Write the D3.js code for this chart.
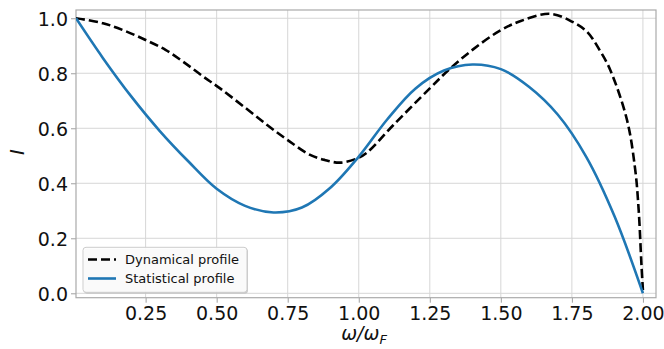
<!DOCTYPE html>
<html>
<head>
<meta charset="utf-8">
<script src="https://cdn.jsdelivr.net/npm/d3@7"></script>
<style>
  body { margin: 0; background: #fff; }
  svg { display: block; font-family: "DejaVu Sans", sans-serif; }
</style>
</head>
<body>
<svg id="chart" width="664" height="349"></svg>
<script>
// values
const xTicks = [0.25, 0.5, 0.75, 1.0, 1.25, 1.5, 1.75, 2.0];
const yTicks = [0.0, 0.2, 0.4, 0.6, 0.8, 1.0];

const dynamicalX = [0.005, 0.1, 0.175, 0.25, 0.32, 0.382, 0.45, 0.512, 0.6, 0.68, 0.75, 0.829, 0.88, 0.934, 0.993, 1.028, 1.122, 1.25, 1.316, 1.4, 1.497, 1.57, 1.674, 1.75, 1.803, 1.85, 1.885, 1.944, 1.973, 1.985, 1.995, 2.0];
const dynamicalY = [1.0, 0.982, 0.955, 0.921, 0.885, 0.842, 0.79, 0.745, 0.675, 0.61, 0.557, 0.503, 0.485, 0.475, 0.49, 0.511, 0.612, 0.745, 0.812, 0.885, 0.955, 0.99, 1.016, 0.988, 0.951, 0.88, 0.812, 0.63, 0.448, 0.303, 0.1, 0.012];

const statisticalX = [0.005, 0.1, 0.2, 0.3, 0.4, 0.5, 0.6, 0.7, 0.8, 0.9, 1.0, 1.1, 1.2, 1.3, 1.4, 1.5, 1.6, 1.7, 1.8, 1.9, 2.0];
const statisticalY = [1.0, 0.855, 0.715, 0.59, 0.48, 0.38, 0.318, 0.294, 0.312, 0.384, 0.497, 0.632, 0.745, 0.81, 0.832, 0.815, 0.75, 0.65, 0.497, 0.28, 0.0];

const svg = d3.select("#chart");
const plotLeft = 76, plotRight = 656, plotTop = 10, plotBottom = 297.7;

const xScale = d3.scaleLinear().domain([0.005, 2.046]).range([plotLeft, plotRight]);
const yScale = d3.scaleLinear().domain([-0.016, 1.03]).range([plotBottom, plotTop]);

svg.append("defs").append("clipPath").attr("id", "plotClip")
    .append("rect")
    .attr("x", plotLeft).attr("y", plotTop)
    .attr("width", plotRight - plotLeft).attr("height", plotBottom - plotTop);

// grid
const grid = svg.append("g");
grid.selectAll(".vgrid").data(xTicks).enter().append("line")
    .attr("x1", d => xScale(d)).attr("x2", d => xScale(d))
    .attr("y1", plotTop).attr("y2", plotBottom)
    .attr("stroke", "#d6d6d6").attr("stroke-width", 1);
grid.selectAll(".hgrid").data(yTicks).enter().append("line")
    .attr("y1", d => yScale(d)).attr("y2", d => yScale(d))
    .attr("x1", plotLeft).attr("x2", plotRight)
    .attr("stroke", "#d6d6d6").attr("stroke-width", 1);

// axes
const xAxis = svg.append("g")
    .attr("transform", `translate(0,${plotBottom})`)
    .call(d3.axisBottom(xScale).tickValues(xTicks).tickFormat(d3.format(".2f")).tickSize(5).tickPadding(4));
const yAxis = svg.append("g")
    .attr("transform", `translate(${plotLeft},0)`)
    .call(d3.axisLeft(yScale).tickValues(yTicks).tickFormat(d3.format(".1f")).tickSize(5).tickPadding(3));

[xAxis, yAxis].forEach(a => {
    a.select(".domain").remove();
    a.selectAll(".tick line").attr("stroke", "#a0a0a0");
    a.selectAll(".tick text")
        .attr("fill", "#111")
        .style("font-size", "19px")
        .style("font-family", "DejaVu Sans");
});
yAxis.selectAll(".tick text").attr("dy", "0.36em");

// frame
svg.append("rect")
    .attr("x", plotLeft).attr("y", plotTop)
    .attr("width", plotRight - plotLeft).attr("height", plotBottom - plotTop)
    .attr("fill", "none").attr("stroke", "#aaaaaa").attr("stroke-width", 1.2);

const line = d3.line()
    .x(d => xScale(d[0]))
    .y(d => yScale(d[1]))
    .curve(d3.curveCatmullRom.alpha(0.5));

const plot = svg.append("g").attr("clip-path", "url(#plotClip)");

plot.append("path")
    .datum(d3.zip(dynamicalX, dynamicalY))
    .attr("d", line)
    .attr("fill", "none")
    .attr("stroke", "#000")
    .attr("stroke-width", 2.6)
    .attr("stroke-dasharray", "9,4");

plot.append("path")
    .datum(d3.zip(statisticalX, statisticalY))
    .attr("d", line)
    .attr("fill", "none")
    .attr("stroke", "#1f77b4")
    .attr("stroke-width", 2.6);

// axis labels
const xLabel = svg.append("text")
    .attr("x", 364).attr("y", 340)
    .attr("text-anchor", "middle")
    .style("font-size", "19px")
    .style("font-style", "italic")
    .attr("fill", "#111");
xLabel.append("tspan").text("ω/ω");
xLabel.append("tspan").text("F").attr("dy", 4).style("font-size", "13px");

svg.append("text")
    .attr("transform", "translate(24,152) rotate(-90)")
    .attr("text-anchor", "middle")
    .style("font-size", "20px")
    .style("font-style", "italic")
    .attr("fill", "#111")
    .text("I");

// legend
const legendNames = ["Dynamical profile", "Statistical profile"];
const legend = svg.append("g");
legend.append("rect")
    .attr("x", 84).attr("y", 248.5)
    .attr("width", 164).attr("height", 45)
    .attr("rx", 3)
    .attr("fill", "#999").attr("opacity", 0.5);
legend.append("rect")
    .attr("x", 83).attr("y", 247.3)
    .attr("width", 164).attr("height", 45)
    .attr("rx", 3)
    .attr("fill", "#fff").attr("fill-opacity", 0.9)
    .attr("stroke", "#cccccc");

legendNames.forEach((name, i) => {
    const y = 259.5 + i * 19;
    legend.append("line")
        .attr("x1", 88).attr("x2", 116)
        .attr("y1", y).attr("y2", y)
        .attr("stroke", i === 0 ? "#000" : "#1f77b4")
        .attr("stroke-width", 2.6)
        .attr("stroke-dasharray", i === 0 ? "9,4" : null);
    legend.append("text")
        .attr("x", 125).attr("y", y + 4.5)
        .style("font-size", "13px")
        .attr("fill", "#111")
        .text(name);
});
</script>
</body>
</html>
